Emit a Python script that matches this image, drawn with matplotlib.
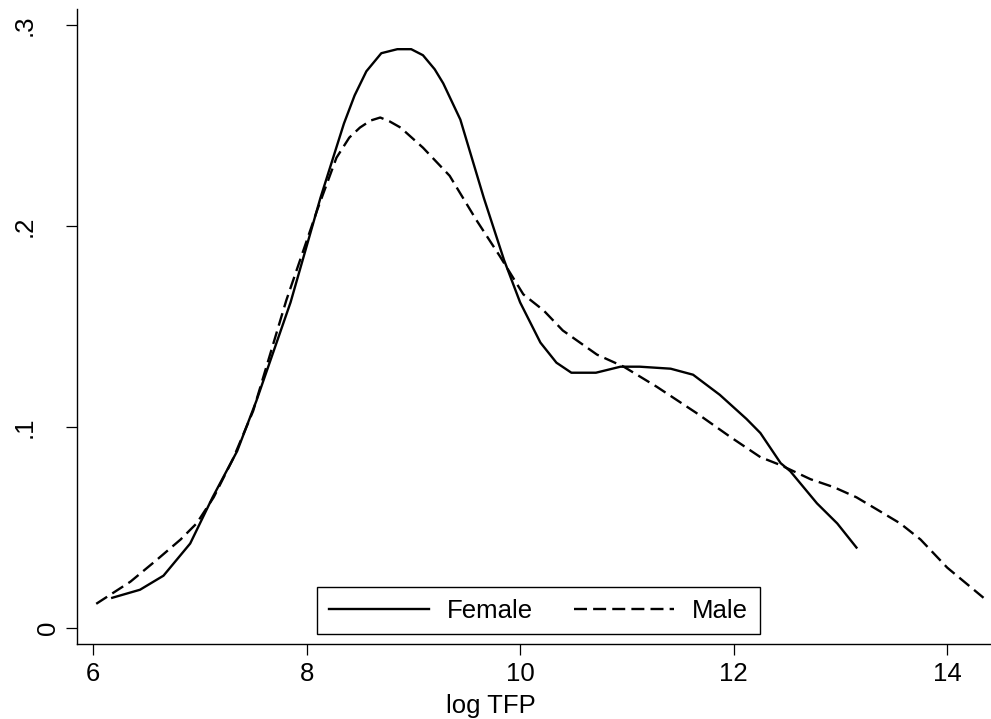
import matplotlib
matplotlib.use("Agg")
from matplotlib import pyplot as plt
from matplotlib import transforms

# values (kernel density of log TFP)
female_x = [6.18, 6.44, 6.66, 6.91, 7.12, 7.35, 7.53, 7.85, 8.13, 8.35, 8.45, 8.56,
            8.70, 8.85, 8.98, 9.09, 9.20, 9.28, 9.44, 9.66, 9.85, 10.0, 10.19, 10.34,
            10.48, 10.71, 10.94, 11.12, 11.41, 11.62, 11.87, 12.12, 12.25, 12.44,
            12.53, 12.78, 12.97, 13.15]
female_y = [0.015, 0.019, 0.026, 0.042, 0.065, 0.088, 0.113, 0.162, 0.214, 0.251,
            0.265, 0.277, 0.286, 0.288, 0.288, 0.285, 0.278, 0.271, 0.253, 0.214,
            0.183, 0.162, 0.142, 0.132, 0.127, 0.127, 0.130, 0.130, 0.129, 0.126,
            0.116, 0.104, 0.097, 0.082, 0.078, 0.062, 0.052, 0.040]

male_x = [6.03, 6.35, 6.60, 6.82, 6.97, 7.13, 7.31, 7.50, 7.81, 8.10, 8.28, 8.40,
          8.50, 8.60, 8.69, 8.78, 8.88, 9.09, 9.34, 9.59, 9.81, 10.03, 10.22, 10.40,
          10.72, 10.97, 11.28, 11.65, 11.97, 12.25, 12.44, 12.72, 12.94, 13.15,
          13.34, 13.56, 13.75, 14.00, 14.34]
male_y = [0.012, 0.023, 0.034, 0.044, 0.052, 0.065, 0.084, 0.108, 0.163, 0.208,
          0.234, 0.244, 0.249, 0.2525, 0.254, 0.252, 0.249, 0.239, 0.225, 0.203,
          0.185, 0.166, 0.158, 0.148, 0.136, 0.130, 0.120, 0.107, 0.095, 0.085,
          0.081, 0.074, 0.070, 0.065, 0.059, 0.052, 0.044, 0.030, 0.015]

x_ticks = [6, 8, 10, 12, 14]
y_ticks = [0, 0.1, 0.2, 0.3]
y_labels = ["0", ".1", ".2", ".3"]

plt.rcParams['font.family'] = ['Liberation Sans', 'DejaVu Sans']

fig = plt.figure(figsize=(9.91, 7.19), dpi=100)
ax = fig.add_axes([77 / 991, (719 - 644) / 719, 1 - 77 / 991, (644 - 9) / 719])

lw = 1.7
ax.plot(female_x, female_y, color='black', linewidth=lw, label='Female')
ax.plot(male_x, male_y, color='black', linewidth=lw, dashes=(5.5, 2.6), label='Male')

ax.set_xlim(5.85, 14.41)
ax.set_ylim(-0.008, 0.308)

for side in ('top', 'right'):
    ax.spines[side].set_visible(False)
for side in ('left', 'bottom'):
    ax.spines[side].set_linewidth(1.0)

ax.set_xticks(x_ticks)
ax.set_xticklabels([str(t) for t in x_ticks])
ax.tick_params(axis='x', length=8, width=0.9, labelsize=18.5, pad=5)
ax.set_yticks(y_ticks)
ax.set_yticklabels([])
ax.tick_params(axis='y', length=8, width=0.9)

# y labels drawn vertically, as Stata does
trans = transforms.blended_transform_factory(fig.transFigure, ax.transData)
for val, lab in zip(y_ticks, y_labels):
    xpix = 55 if lab == "0" else 32
    ax.text(xpix / 991, val, lab, transform=trans, rotation=90,
            rotation_mode='anchor', ha='center', va='baseline', fontsize=18.5)

ax.set_xlabel("log TFP", fontsize=18.5, va='center')
ax.xaxis.set_label_coords((491 - 77) / 914, (644 - 706) / 635)

leg = ax.legend(loc='center', bbox_to_anchor=((538.5 - 77) / 914, (644 - 610.5) / 635),
                ncol=2, fontsize=18.5, frameon=True, fancybox=False, shadow=False,
                handlelength=3.9, handletextpad=0.7, columnspacing=1.6,
                borderpad=0.45, borderaxespad=0)
leg.get_frame().set_edgecolor('black')
leg.get_frame().set_linewidth(1.0)
leg.get_frame().set_alpha(1)

fig.savefig("out.png", dpi=100)
